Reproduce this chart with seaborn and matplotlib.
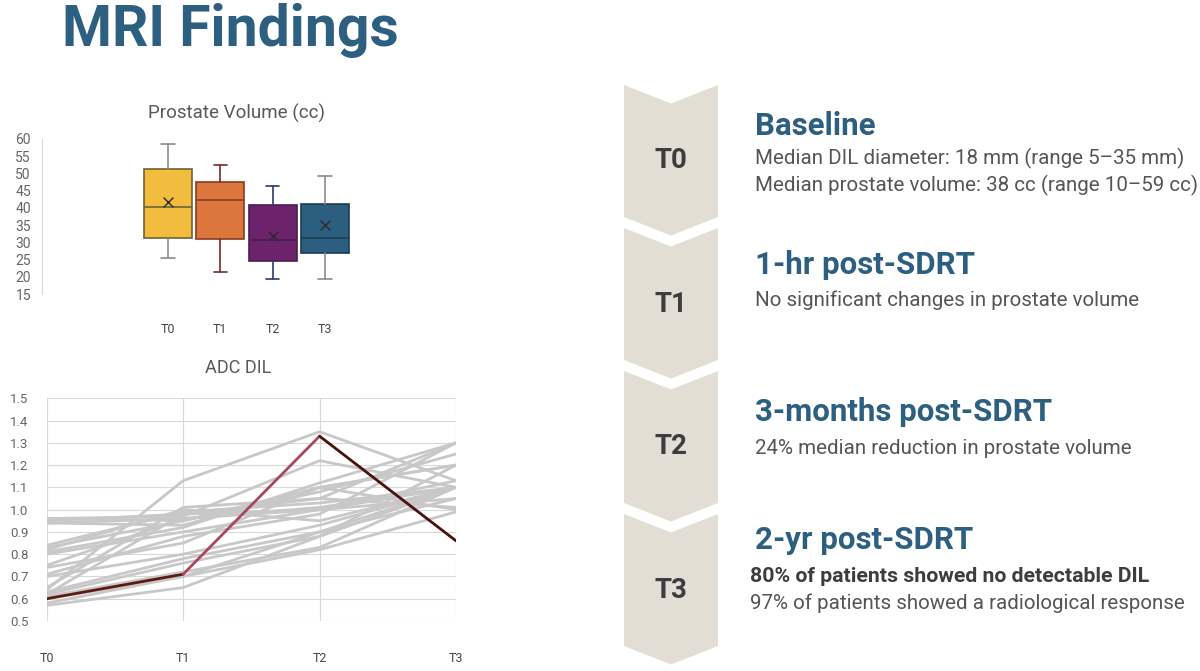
import numpy as np
import pandas as pd
import matplotlib
matplotlib.use("Agg")
import matplotlib.pyplot as plt
from matplotlib.patches import Polygon
import seaborn as sns

sns.set_theme(style="white")
plt.rcParams['font.family'] = ['Roboto', 'DejaVu Sans']

# ---------------- data ----------------
timepoints = ["T0", "T1", "T2", "T3"]

# Prostate volume (cc) box statistics
box_lo = [25.4, 21.3, 19.3, 19.3]
box_q1 = [31.2, 31.0, 24.5, 26.9]
box_med = [40.4, 42.4, 30.7, 31.3]
box_q3 = [51.4, 47.4, 40.9, 41.2]
box_hi = [58.5, 52.4, 46.3, 49.4]
box_mean = [41.6, None, 31.9, 35.1]
vol_ticks = [15, 20, 25, 30, 35, 40, 45, 50, 55, 60]

# ADC DIL per patient (T0, T1, T2, T3)
adc_gray = [
    [0.64, 1.13, 1.35, 1.13],
    [0.96, 0.97, 1.22, 1.10],
    [0.95, 0.98, 1.05, 1.30],
    [0.94, 0.96, 1.00, 1.10],
    [0.94, 0.93, 1.10, 1.20],
    [0.84, 0.99, 1.03, 1.10],
    [0.83, 0.95, 1.08, 1.25],
    [0.82, 1.00, 0.95, 1.10],
    [0.81, 0.92, 1.12, 1.30],
    [0.80, 0.90, 1.00, 1.05],
    [0.75, 0.96, 1.01, 1.10],
    [0.74, 0.85, 1.10, 1.20],
    [0.71, 0.88, 0.98, 1.30],
    [0.70, 0.80, 0.93, 1.10],
    [0.65, 1.01, 1.05, 1.01],
    [0.63, 0.78, 0.90, 1.10],
    [0.62, 0.76, 0.88, 1.20],
    [0.61, 0.72, 0.83, 1.10],
    [0.60, 0.70, 0.82, 0.99],
    [0.58, 0.70, 0.90, 1.05],
    [0.57, 0.65, 0.88, 1.10],
    [0.62, 0.98, 1.00, 1.13],
    [0.96, 0.95, 1.10, 1.00],
]
adc_highlight = [0.60, 0.71, 1.33, 0.86]
adc_ticks = [0.5, 0.6, 0.7, 0.8, 0.9, 1.0, 1.1, 1.2, 1.3, 1.4, 1.5]

chev_labels = ["T0", "T1", "T2", "T3"]
headings = ["Baseline", "1-hr post-SDRT", "3-months post-SDRT", "2-yr post-SDRT"]
body_T0 = ["Median DIL diameter: 18 mm (range 5\u201335 mm)",
           "Median prostate volume: 38 cc (range 10\u201359 cc)"]
body_T1 = ["No significant changes in prostate volume"]
body_T2 = ["24% median reduction in prostate volume"]
body_T3_bold = "80% of patients showed no detectable DIL"
body_T3 = "97% of patients showed a radiological response"

# ---------------- figure ----------------
W, H = 1200, 671
fig = plt.figure(figsize=(12, 6.71), dpi=100)
fig.patch.set_facecolor("white")

def ax_px(left, top, right, bottom):
    return fig.add_axes([left / W, (H - bottom) / H, (right - left) / W, (bottom - top) / H])

TITLE_BLUE = "#2D5F80"
TXT = "#555555"
TICK = "#666666"

# Title
fig.text(62 / W, 1 - 31 / H, "MRI Findings", fontsize=41, fontweight="bold",
         color=TITLE_BLUE, ha="left", va="center")

# ---------- Box plot ----------
axb = ax_px(42, 139, 350, 294)
fills = ["#F2BD3F", "#DB763C", "#6C2369", "#2C5F7F"]
edges = ["#6E6433", "#8B3A25", "#4A1D55", "#1D3B52"]
whisk = ["#8C8C8C", "#7A2A28", "#2E3A6E", "#8C8C8C"]
stats = []
for i, t in enumerate(timepoints):
    stats.append(dict(label=t, whislo=box_lo[i], q1=box_q1[i], med=box_med[i],
                      q3=box_q3[i], whishi=box_hi[i], fliers=[]))
for i, s in enumerate(stats):
    axb.bxp([s], positions=[i], widths=0.92, patch_artist=True, showfliers=False,
            boxprops=dict(facecolor=fills[i], edgecolor=edges[i], linewidth=1.2),
            medianprops=dict(color=edges[i], linewidth=1.2),
            whiskerprops=dict(color=whisk[i], linewidth=1.2),
            capprops=dict(color=whisk[i], linewidth=1.2), capwidths=0.26)
mean_df = pd.DataFrame({"t": [i for i, m in enumerate(box_mean) if m is not None],
                        "m": [m for m in box_mean if m is not None]})
sns.scatterplot(data=mean_df, x="t", y="m", marker="x", s=50, color="#2b2b2b",
                linewidth=1.0, ax=axb, zorder=5)
axb.set_xlim(-2.41, 3.48)
axb.set_ylim(15, 60)
axb.set_yticks(vol_ticks)
axb.set_yticklabels([str(v) for v in vol_ticks], fontsize=10, color=TICK)
axb.set_xticks(range(4))
axb.set_xticklabels(timepoints, fontsize=9, color="#444444")
axb.set_xlabel("")
axb.set_ylabel("")
for sp in ["top", "right", "bottom"]:
    axb.spines[sp].set_visible(False)
axb.spines["left"].set_color("#D9D9D9")
axb.spines["left"].set_linewidth(0.8)
axb.tick_params(axis="y", length=0, pad=8)
axb.tick_params(axis="x", length=0, pad=21)
axb.set_facecolor("none")
fig.text(237 / W, 1 - 113 / H, "Prostate Volume (cc)", fontsize=13.5, color="#595959",
         ha="center", va="center")

# ---------- ADC line chart ----------
axl = ax_px(46.7, 398.3, 456, 621)
rows = []
for pid, vals in enumerate(adc_gray):
    for j, v in enumerate(vals):
        rows.append(dict(pid=pid, x=j, adc=v))
df = pd.DataFrame(rows)
sns.lineplot(data=df, x="x", y="adc", units="pid", estimator=None, color="#C8C8C8",
             linewidth=2.0, ax=axl, zorder=2)
seg_colors = ["#5C1A12", "#A8485A", "#4A120C"]
for k in range(3):
    seg = pd.DataFrame({"x": [k, k + 1], "adc": adc_highlight[k:k + 2]})
    sns.lineplot(data=seg, x="x", y="adc", color=seg_colors[k], linewidth=2.0,
                 ax=axl, zorder=3)
axl.set_xlim(0, 3)
axl.set_ylim(0.5, 1.5)
axl.set_yticks(adc_ticks)
axl.set_yticklabels([f"{v:.1f}" for v in adc_ticks], fontsize=9.5, color=TICK)
axl.set_xticks(range(4))
axl.set_xticklabels(timepoints, fontsize=9, color="#444444")
axl.set_xlabel("")
axl.set_ylabel("")
axl.grid(True, color="#D9D9D9", linewidth=0.8)
axl.set_axisbelow(True)
for sp in axl.spines.values():
    sp.set_visible(False)
axl.tick_params(axis="y", length=0, pad=13)
axl.tick_params(axis="x", length=0, pad=22)
fig.text(238 / W, 1 - 368 / H, "ADC DIL", fontsize=13, color="#595959",
         ha="center", va="center")

# ---------- Chevrons & text ----------
axo = fig.add_axes([0, 0, 1, 1])
axo.set_xlim(0, W)
axo.set_ylim(H, 0)
axo.axis("off")
axo.set_facecolor("none")
tops = [85, 228, 371, 514]
body_h = 132
notch = 18.5
xl, xr = 624, 718
xc = (xl + xr) / 2
for i, top in enumerate(tops):
    pts = [(xl, top), (xc, top + notch), (xr, top), (xr, top + body_h),
           (xc, top + body_h + notch), (xl, top + body_h)]
    axo.add_patch(Polygon(pts, closed=True, facecolor="#E2DED3", edgecolor="none"))
    axo.text(xc, top + body_h / 2 + 10, chev_labels[i], fontsize=20, fontweight="bold",
             color="#3D3D3D", ha="center", va="center")

hx = 755
HS = 22.5
BS = 14.8
axo.text(hx, 126, headings[0], fontsize=HS, fontweight="bold", color=TITLE_BLUE,
         ha="left", va="center")
axo.text(hx, 158, body_T0[0], fontsize=BS, color=TXT, ha="left", va="center")
axo.text(hx, 185, body_T0[1], fontsize=BS, color=TXT, ha="left", va="center")
axo.text(hx, 265, headings[1], fontsize=HS, fontweight="bold", color=TITLE_BLUE,
         ha="left", va="center")
axo.text(hx, 300, body_T1[0], fontsize=BS, color=TXT, ha="left", va="center")
axo.text(hx, 412, headings[2], fontsize=HS, fontweight="bold", color=TITLE_BLUE,
         ha="left", va="center")
axo.text(hx, 448, body_T2[0], fontsize=BS, color=TXT, ha="left", va="center")
axo.text(hx, 540, headings[3], fontsize=HS, fontweight="bold", color=TITLE_BLUE,
         ha="left", va="center")
axo.text(750, 577, body_T3_bold, fontsize=15.3, fontweight="bold", color="#3D3D3D",
         ha="left", va="center")
axo.text(750, 603, body_T3, fontsize=BS, color=TXT, ha="left", va="center")

fig.savefig("out.png", dpi=100, facecolor="white")
